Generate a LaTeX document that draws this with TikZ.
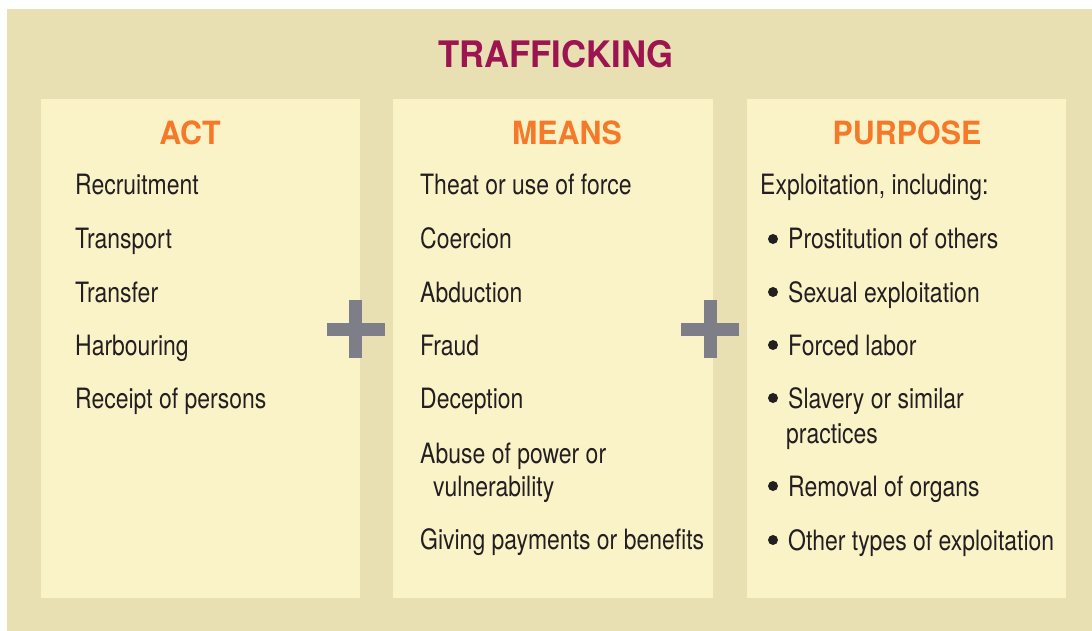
\documentclass[tikz,border=0pt]{standalone}
\usepackage{fontspec}
\setmainfont{TeX Gyre Heros}[FakeStretch=0.82]
\newfontfamily\headfont{TeX Gyre Heros}[FakeStretch=0.95]
\definecolor{outerbg}{HTML}{E8DFB3}
\definecolor{panelbg}{HTML}{FBF3C8}
\definecolor{txt}{HTML}{231F20}
\definecolor{headorange}{HTML}{F47A2A}
\definecolor{titlemaroon}{HTML}{9C1450}
\definecolor{plusgray}{HTML}{7E7E88}
\begin{document}
\begin{tikzpicture}[x=1pt,y=-1pt,
  panel/.style={fill=panelbg,draw=none},
  item/.style={anchor=base west,inner sep=0pt,text=txt,font=\fontsize{28}{30}\selectfont},
  head/.style={anchor=base,inner sep=0pt,text=headorange,font=\headfont\bfseries\fontsize{32}{34}\selectfont},
  plus/.style={fill=plusgray,draw=none},
  dot/.style={circle,fill=txt,inner sep=0pt,minimum size=10pt}]
\useasboundingbox (0,0) rectangle (1092,631);
\fill[white] (0,0) rectangle (1092,631);
\fill[outerbg] (7,9) rectangle (1092,631);
% panels
\fill[panel] (41,99) rectangle (360,598);
\fill[panel] (393,99) rectangle (713,598);
\fill[panel] (747,99) rectangle (1066,598);
% title
\node[anchor=base,inner sep=0pt,text=titlemaroon,font=\headfont\bfseries\fontsize{36.5}{38}\selectfont] (title) at (556,68) {TRAFFICKING};
% headings
\node[head] (act) at (190,145) {ACT};
\node[head] (means) at (567,145) {MEANS};
\node[head] (purpose) at (907,145) {PURPOSE};
% act items
\node[item] (a1) at (75,195) {Recruitment};
\node[item] (a2) at (75,248) {Transport};
\node[item] (a3) at (75,302) {Transfer};
\node[item] (a4) at (75,355) {Harbouring};
\node[item] (a5) at (75,408) {Receipt of persons};
% means items
\node[item] (m1) at (420,195) {Theat or use of force};
\node[item] (m2) at (420,248) {Coercion};
\node[item] (m3) at (420,302) {Abduction};
\node[item] (m4) at (420,355) {Fraud};
\node[item] (m5) at (420,408) {Deception};
\node[item] (m6) at (420,463) {Abuse of power or};
\node[item] (m6b) at (433,496) {vulnerability};
\node[item] (m7) at (420,549) {Giving payments or benefits};
% purpose items
\node[item] (p0) at (760,195) {Exploitation, including:};
\node[dot] (d1) at (773,239) {};
\node[item] (p1) at (788,248) {Prostitution of others};
\node[dot] (d2) at (773,292) {};
\node[item] (p2) at (788,302) {Sexual exploitation};
\node[dot] (d3) at (773,345) {};
\node[item] (p3) at (788,355) {Forced labor};
\node[dot] (d4) at (773,398) {};
\node[item] (p4) at (788,408) {Slavery or similar};
\node[item] (p4b) at (786,443) {practices};
\node[dot] (d5) at (773,486) {};
\node[item] (p5) at (788,496) {Removal of organs};
\node[dot] (d6) at (773,540) {};
\node[item] (p6) at (788,550) {Other types of exploitation};
% plus signs
\fill[plus] (327,323) rectangle (385,336);
\fill[plus] (349,300) rectangle (362,358);
\fill[plus] (681,323) rectangle (739,336);
\fill[plus] (704,300) rectangle (717,358);
\end{tikzpicture}
\end{document}
